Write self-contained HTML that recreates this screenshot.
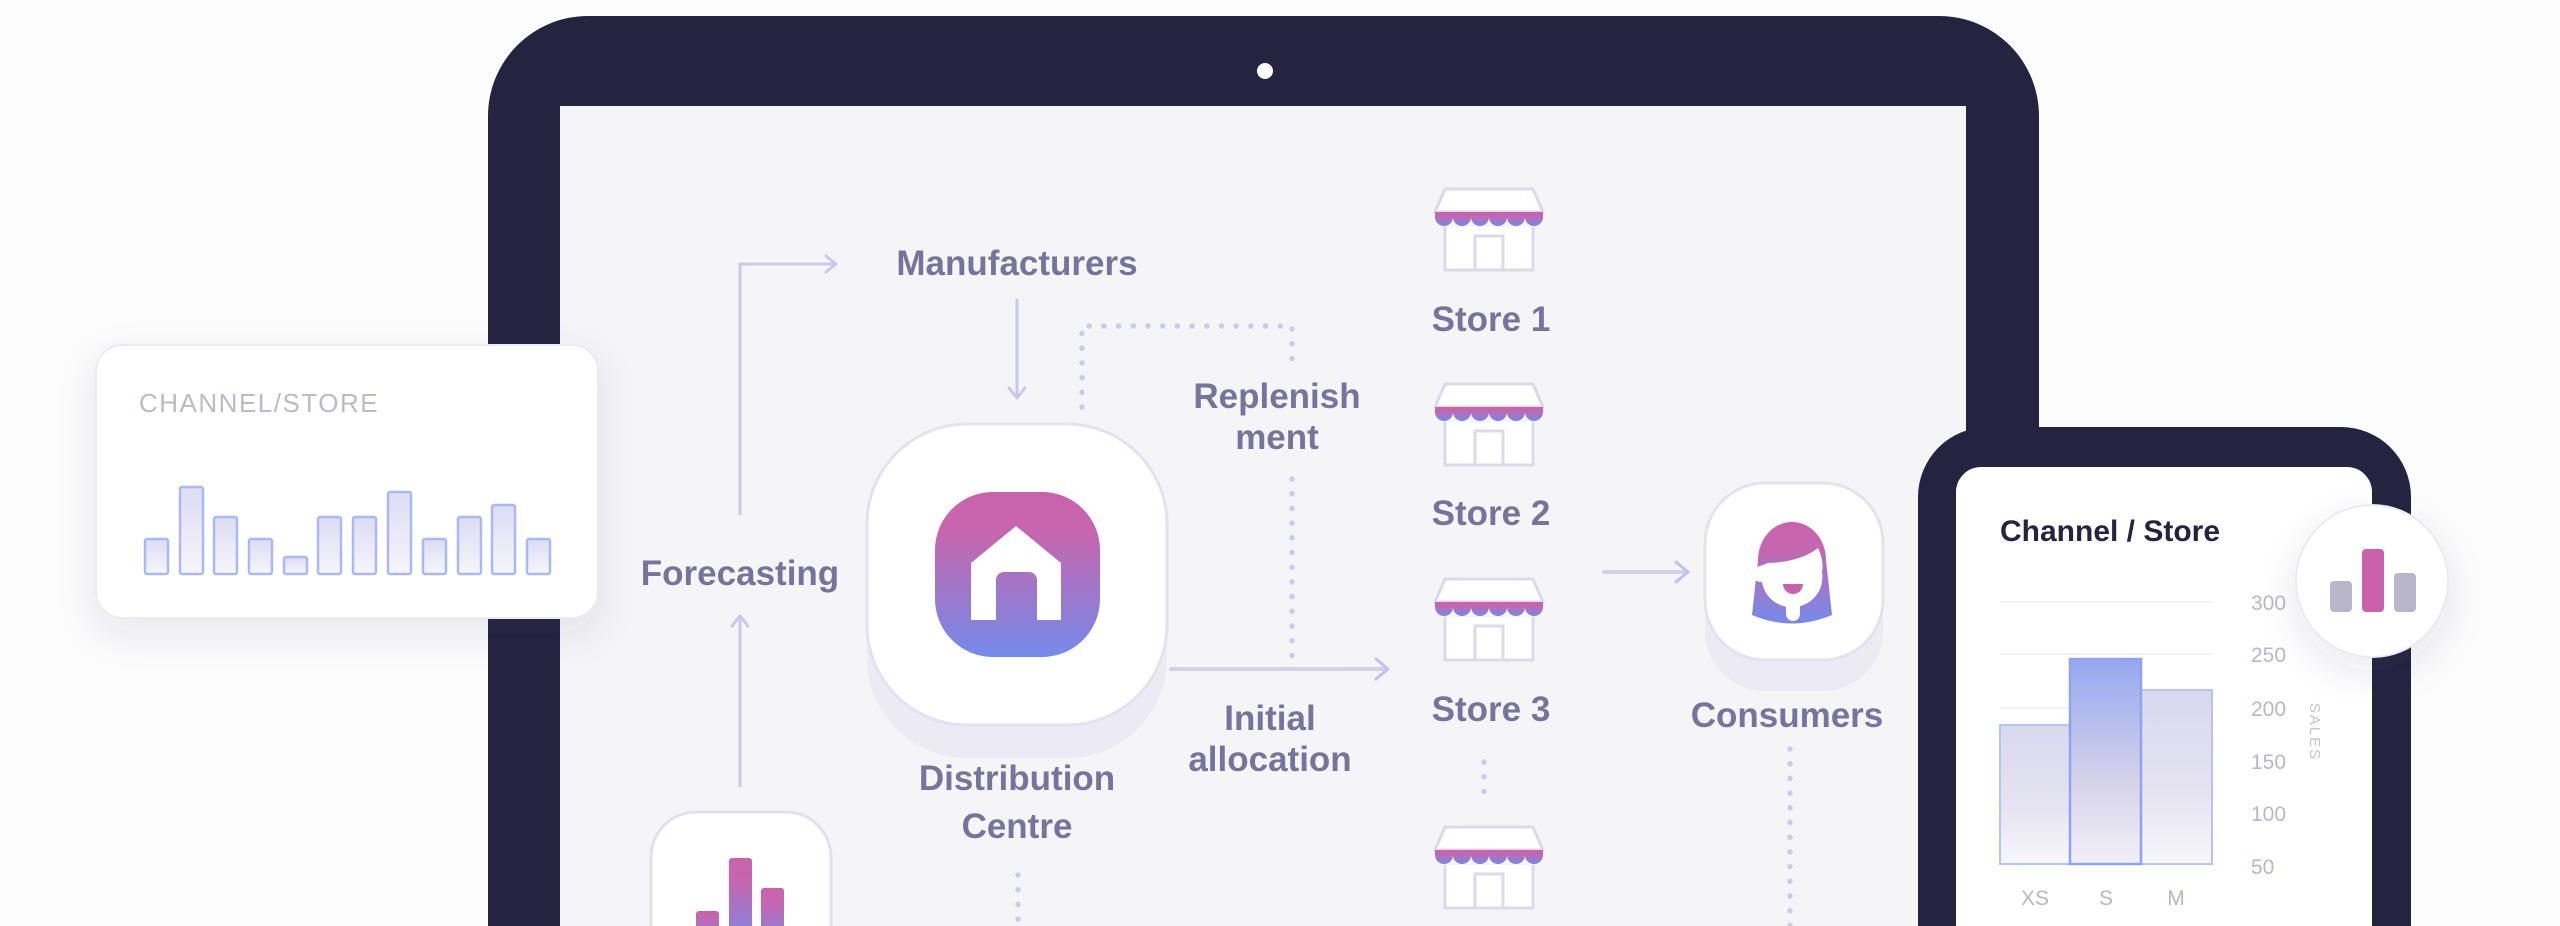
<!DOCTYPE html>
<html><head><meta charset="utf-8"><style>
html,body{margin:0;padding:0;background:#fcfcfd;}
svg{display:block;}
text{font-family:"Liberation Sans",sans-serif;}
.lbl{font-size:35px;font-weight:bold;fill:#77739a;text-anchor:middle;}
.ax{font-size:21px;fill:#b9b5cc;}
</style></head><body>
<svg width="2560" height="926" viewBox="0 0 2560 926" xmlns="http://www.w3.org/2000/svg">
<defs>
<linearGradient id="pg" x1="0" y1="0" x2="0" y2="1"><stop offset="0" stop-color="#c962ac"/><stop offset="0.25" stop-color="#c566ae"/><stop offset="1" stop-color="#758aea"/></linearGradient>
<linearGradient id="bar" x1="0" y1="0" x2="0" y2="1"><stop offset="0" stop-color="#dcdcf4"/><stop offset="1" stop-color="#f6f6fb"/></linearGradient>
<linearGradient id="cb" x1="0" y1="0" x2="0" y2="1"><stop offset="0" stop-color="#d8d8ef"/><stop offset="0.6" stop-color="#e6e4f1"/><stop offset="1" stop-color="#f7f7fa"/></linearGradient>
<linearGradient id="cbs" x1="0" y1="0" x2="0" y2="1"><stop offset="0" stop-color="#95a8f0"/><stop offset="0.6" stop-color="#d6d2ea"/><stop offset="1" stop-color="#f1f0f6"/></linearGradient>
<filter id="sh" x="-20%" y="-20%" width="140%" height="150%"><feDropShadow dx="0" dy="14" stdDeviation="18" flood-color="#2a2660" flood-opacity="0.10"/></filter>
<g id="store">
 <path d="M10 0 H98 L108 23 H0 Z" fill="#fff" stroke="#dcdaea" stroke-width="3" stroke-linejoin="round"/>
 <path d="M0 23 H108 V28 A9 9 0 0 1 90 28 A9 9 0 0 1 72 28 A9 9 0 0 1 54 28 A9 9 0 0 1 36 28 A9 9 0 0 1 18 28 A9 9 0 0 1 0 28 Z" fill="url(#pg)"/>
 <path d="M10 38 V81 H98 V38" fill="#fff" stroke="#dcdaea" stroke-width="3"/>
 <rect x="40" y="47" width="28" height="34" fill="#fff" stroke="#dcdaea" stroke-width="3"/>
</g>
</defs>

<!-- tablet -->
<path d="M488 926 V116 A100 100 0 0 1 588 16 H1939 A100 100 0 0 1 2039 116 V926 Z" fill="#262341"/>
<rect x="560" y="106" width="1406" height="820" fill="#f5f5f7"/>
<circle cx="1265" cy="71" r="8" fill="#fff"/>

<!-- left card -->
<rect x="96" y="345" width="502" height="273" rx="26" fill="#fff" stroke="#ebeaf2" stroke-width="2" filter="url(#sh)"/>
<text x="139" y="412" font-size="26" fill="#bdb9cd" letter-spacing="1.5">CHANNEL/STORE</text>
<g fill="url(#bar)" stroke="#a9b9f2" stroke-width="2.5">
<rect x="145" y="539" width="23" height="35" rx="2"/>
<rect x="180" y="487" width="23" height="87" rx="2"/>
<rect x="214" y="517" width="23" height="57" rx="2"/>
<rect x="249" y="539" width="23" height="35" rx="2"/>
<rect x="284" y="557" width="23" height="17" rx="2"/>
<rect x="318" y="517" width="23" height="57" rx="2"/>
<rect x="353" y="517" width="23" height="57" rx="2"/>
<rect x="388" y="492" width="23" height="82" rx="2"/>
<rect x="423" y="539" width="23" height="35" rx="2"/>
<rect x="458" y="517" width="23" height="57" rx="2"/>
<rect x="492" y="505" width="23" height="69" rx="2"/>
<rect x="527" y="539" width="23" height="35" rx="2"/>
</g>

<!-- arrows -->
<g fill="none" stroke-width="3" stroke-linecap="round" stroke-linejoin="round">
<path d="M740 514 V264 H834" stroke="#cfc8ea"/>
<path d="M826 256 L836 264 L826 272" stroke="#c8c8ec"/>
<path d="M740 786 V618" stroke="#cfc8ea"/>
<path d="M732 626 L740 616 L748 626" stroke="#c8c8ec"/>
<path d="M1017 300 V396" stroke="#c8c8ec"/>
<path d="M1009 388 L1017 398 L1025 388" stroke="#c8c8ec"/>
<path d="M1171 669 H1386" stroke="#d5cfe8" stroke-width="4"/>
<path d="M1376 659 L1388 669 L1376 679" stroke="#b9c4f0"/>
<path d="M1604 572 H1686" stroke="#d5cfe8" stroke-width="4"/>
<path d="M1676 562 L1688 572 L1676 582" stroke="#b9c4f0"/>
</g>
<g fill="none" stroke="#c9cbee" stroke-width="5.5" stroke-linecap="round" stroke-dasharray="0 14.7">
<path d="M1082 407 V326 H1292 V362"/>
<path d="M1292 479 V656"/>
<path d="M1018 875 V926"/>
<path d="M1790 749 V926"/>
<path d="M1484 762 V800"/>
</g>
<text class="lbl" x="740" y="585">Forecasting</text>
<text class="lbl" x="1017" y="275">Manufacturers</text>
<text class="lbl" x="1277" y="408">Replenish</text>
<text class="lbl" x="1277" y="449">ment</text>
<text class="lbl" x="1270" y="730">Initial</text>
<text class="lbl" x="1270" y="771">allocation</text>

<!-- DC -->
<rect x="867" y="450" width="300" height="308" rx="100" fill="#ecebf3"/>
<rect x="867" y="424" width="300" height="301" rx="100" fill="#fff" stroke="#e4e2ee" stroke-width="3"/>
<rect x="935" y="492" width="165" height="165" rx="58" fill="url(#pg)"/>
<path d="M971 620 V563 L1016 526 L1061 563 V620 H1037 V580 A8 8 0 0 0 1029 572 H1004 A8 8 0 0 0 996 580 V620 Z" fill="#fff"/>
<text class="lbl" x="1017" y="790">Distribution</text>
<text class="lbl" x="1017" y="838">Centre</text>

<!-- bottom-left box -->
<rect x="651" y="812" width="180" height="160" rx="45" fill="#fff" stroke="#e2e0ee" stroke-width="3"/>
<rect x="696" y="911" width="23" height="30" rx="3" fill="url(#pg)"/>
<rect x="729" y="858" width="23" height="90" rx="3" fill="url(#pg)"/>
<rect x="761" y="888" width="23" height="60" rx="3" fill="url(#pg)"/>

<!-- stores -->
<use href="#store" x="1435" y="189"/>
<use href="#store" x="1435" y="384"/>
<use href="#store" x="1435" y="579"/>
<use href="#store" x="1435" y="827"/>
<text class="lbl" x="1491" y="331">Store 1</text>
<text class="lbl" x="1491" y="525">Store 2</text>
<text class="lbl" x="1491" y="721">Store 3</text>

<!-- consumers -->
<rect x="1705" y="505" width="178" height="186" rx="60" fill="#ecebf3"/>
<rect x="1705" y="483" width="178" height="177" rx="60" fill="#fff" stroke="#e4e2ee" stroke-width="3"/>
<path d="M1752 615 L1758 560 A34 38 0 0 1 1826 560 L1832 615 Q1792 632 1752 615 Z" fill="url(#pg)"/>
<path d="M1768 563 Q1800 562 1818 548 Q1824 560 1822 572 A30 30 0 0 1 1762 582 A8 8 0 0 1 1760 566 Z" fill="#fff"/>
<path d="M1783 584 A10 10 0 0 0 1803 584 Z" fill="#c962ac"/>
<path d="M1786 604 H1800 V614 A7 7 0 0 1 1786 614 Z" fill="#fff"/>
<text class="lbl" x="1787" y="727">Consumers</text>

<!-- phone -->
<path d="M1918 926 V497 A70 70 0 0 1 1988 427 H2341 A70 70 0 0 1 2411 497 V926 Z" fill="#262341"/>
<path d="M1956 926 V492 A25 25 0 0 1 1981 467 H2347 A25 25 0 0 1 2372 492 V926 Z" fill="#fff"/>
<text x="2000" y="541" font-size="30" font-weight="bold" fill="#262341">Channel / Store</text>
<g stroke="#efeef4" stroke-width="1.5">
<line x1="2000" y1="602" x2="2212" y2="602"/><line x1="2000" y1="654" x2="2212" y2="654"/><line x1="2000" y1="708" x2="2212" y2="708"/><line x1="2000" y1="761" x2="2212" y2="761"/><line x1="2000" y1="813" x2="2212" y2="813"/>
</g>
<rect x="2000" y="725" width="70" height="139" fill="url(#cb)" stroke="#b7c3f2" stroke-width="2"/>
<rect x="2141" y="690" width="71" height="174" fill="url(#cb)" stroke="#b7c3f2" stroke-width="2"/>
<rect x="2070" y="659" width="71" height="205" fill="url(#cbs)" stroke="#8fa3ee" stroke-width="2.5"/>
<text class="ax" x="2251" y="610">300</text>
<text class="ax" x="2251" y="662">250</text>
<text class="ax" x="2251" y="716">200</text>
<text class="ax" x="2251" y="769">150</text>
<text class="ax" x="2251" y="821">100</text>
<text class="ax" x="2251" y="874">50</text>
<text class="ax" x="2035" y="905" text-anchor="middle">XS</text>
<text class="ax" x="2106" y="905" text-anchor="middle">S</text>
<text class="ax" x="2176" y="905" text-anchor="middle">M</text>
<text x="2310" y="732" font-size="15" fill="#c4c1d4" letter-spacing="2" transform="rotate(90 2310 732)" text-anchor="middle">SALES</text>
<circle cx="2372" cy="581" r="76" fill="#fff" stroke="#ebeaf2" stroke-width="2" filter="url(#sh)"/>
<rect x="2330" y="581" width="22" height="31" rx="4" fill="#b9b6cb"/>
<rect x="2362" y="549" width="22" height="63" rx="4" fill="#c962ac"/>
<rect x="2394" y="573" width="22" height="39" rx="4" fill="#b9b6cb"/>
</svg>
</body></html>
